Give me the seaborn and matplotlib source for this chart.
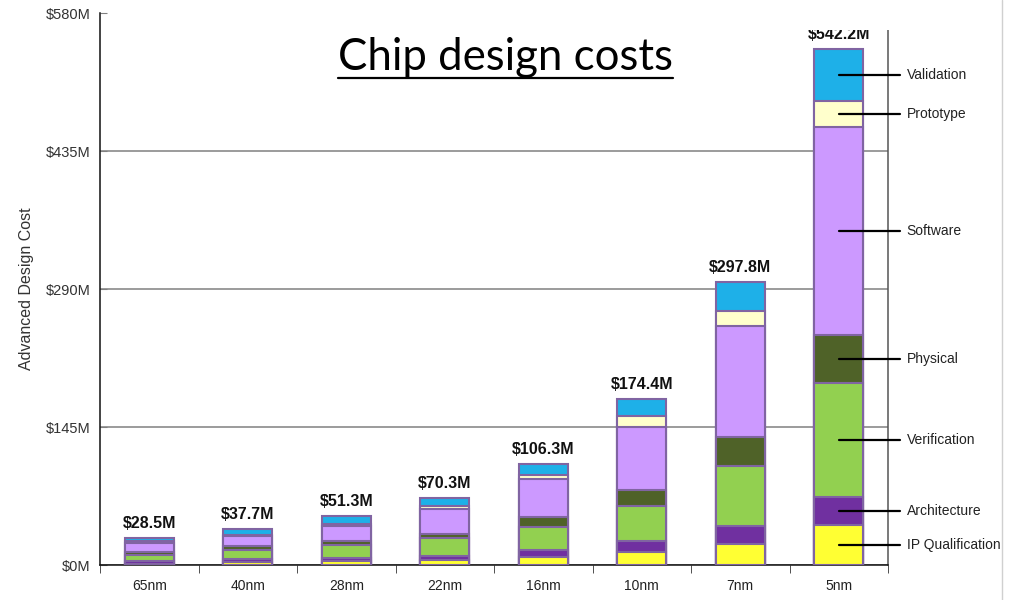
import numpy as np
import pandas as pd
import matplotlib
matplotlib.use("Agg")
import matplotlib.pyplot as plt
from matplotlib.lines import Line2D
from matplotlib.patches import Rectangle
import seaborn as sns

# Process nodes and cost components ($M), stacked bottom to top
nodes = ["65nm", "40nm", "28nm", "22nm", "16nm", "10nm", "7nm", "5nm"]
ip_qualification = [1.5, 3.2, 4.2, 5.3, 8.5, 13.8, 22.4, 42.4]
architecture = [3.0, 2.8, 3.5, 4.2, 7.1, 10.9, 18.6, 28.9]
verification = [5.5, 9.5, 13.3, 19.3, 24.8, 37.8, 63.1, 120.1]
physical = [4.0, 4.6, 4.2, 4.2, 9.9, 16.6, 30.5, 50.7]
software = [9.5, 9.9, 15.7, 25.7, 39.7, 66.4, 116.7, 218.4]
prototype = [2.0, 1.8, 2.4, 2.8, 4.3, 10.6, 15.8, 27.4]
validation = [3.0, 5.9, 8.0, 8.8, 12.0, 18.3, 30.7, 54.3]

component_names = ["IP Qualification", "Architecture", "Verification", "Physical",
                    "Software", "Prototype", "Validation"]
component_values = [ip_qualification, architecture, verification, physical,
                     software, prototype, validation]
component_colors = ["#FFFF33", "#7030A0", "#92D050", "#4F6228",
                    "#CC99FF", "#FFFFCC", "#1EB0E8"]

y_ticks = [0, 145, 290, 435, 580]
y_tick_labels = ["$0M", "$145M", "$290M", "$435M", "$580M"]

EDGE = "#8064A2"

sns.set_style("white")
plt.rcParams["font.family"] = ["Liberation Sans", "DejaVu Sans"]

fig = plt.figure(figsize=(10.25, 6), dpi=100)
ax = fig.add_axes([100 / 1025, 35 / 600, 788 / 1025, 552 / 600])

df = pd.DataFrame({name: vals for name, vals in zip(component_names, component_values)})
df.insert(0, "node", nodes)
cum = df[component_names].cumsum(axis=1)
cum["node"] = nodes

# Draw cumulative heights from the top layer down so each layer overpaints the one above
for name, color in reversed(list(zip(component_names, component_colors))):
    sns.barplot(data=cum, x="node", y=name, order=nodes, color=color, saturation=1,
                width=0.5, edgecolor=EDGE, linewidth=1.5, errorbar=None, ax=ax, zorder=3)

totals = cum[component_names[-1]].values
for i, t in enumerate(totals):
    ax.annotate(f"${t:.1f}M", (i, t), xytext=(0, 5), textcoords="offset points",
                ha="center", va="bottom", fontsize=11.5, fontweight="bold",
                family=["Liberation Sans Narrow", "Liberation Sans"], color="#111111")

# Component labels pointing into the last bar
last = len(nodes) - 1
lower = 0.0
for name in component_names:
    v = df[name].iloc[last]
    mid = lower + v / 2
    lower += v
    ax.plot([last, last + 0.62], [mid, mid], color="black", lw=1.6,
            clip_on=False, zorder=6)
    ax.text(last + 0.69, mid, name, va="center", ha="left", fontsize=10,
            color="#222222", clip_on=False)

ax.set_xlim(-0.5, len(nodes) - 0.5)
ax.set_ylim(0, 580)
ax.set_yticks(y_ticks)
ax.set_yticklabels(y_tick_labels, fontsize=10.5, color="#333333")
ax.yaxis.grid(True, color="#808080", lw=1.1, zorder=1)
ax.get_ygridlines()[-1].set_visible(False)
ax.xaxis.grid(False)
ax.set_axisbelow(True)
ax.tick_params(axis="y", direction="in", length=5, color="#808080", pad=7, left=True)

ax.set_xticks(range(len(nodes)))
ax.set_xticklabels(nodes, fontsize=10, color="#222222")
ax.set_xticks(np.arange(-0.5, len(nodes)), minor=True)
ax.tick_params(axis="x", which="major", length=0, pad=10)
ax.tick_params(axis="x", which="minor", direction="out", length=6, color="#333333",
               bottom=True)

ax.set_xlabel("")
ax.set_ylabel("Advanced Design Cost", fontsize=11.5, color="#333333", labelpad=8)

for side in ["left", "bottom"]:
    ax.spines[side].set_color("#111111")
    ax.spines[side].set_linewidth(1.1)
ax.spines["right"].set_color("#555555")
ax.spines["right"].set_linewidth(1.1)
ax.spines["top"].set_visible(False)

# Title box on the slide covers the top edge of the chart
fig.add_artist(Rectangle((300 / 1025, 1 - 30 / 600), 695 / 1025, 30 / 600,
                         transform=fig.transFigure, facecolor="white",
                         edgecolor="none", zorder=5))
# Slide border line on the right
fig.add_artist(Line2D([1002 / 1025] * 2, [0, 1], transform=fig.transFigure,
                      color="#d0d0d0", lw=1, zorder=5))

title = fig.text(505 / 1025, 1 - 70 / 600, "Chip design costs", ha="center",
                 va="baseline", fontsize=31.5, family=["Lato", "DejaVu Sans"],
                 color="black", zorder=6)
fig.canvas.draw()
bb = title.get_window_extent().transformed(fig.transFigure.inverted())
uy = 1 - 78 / 600
fig.add_artist(Line2D([bb.x0, bb.x1], [uy, uy], transform=fig.transFigure,
                      color="black", lw=1.6, zorder=6))

fig.savefig("out.png", dpi=100)
